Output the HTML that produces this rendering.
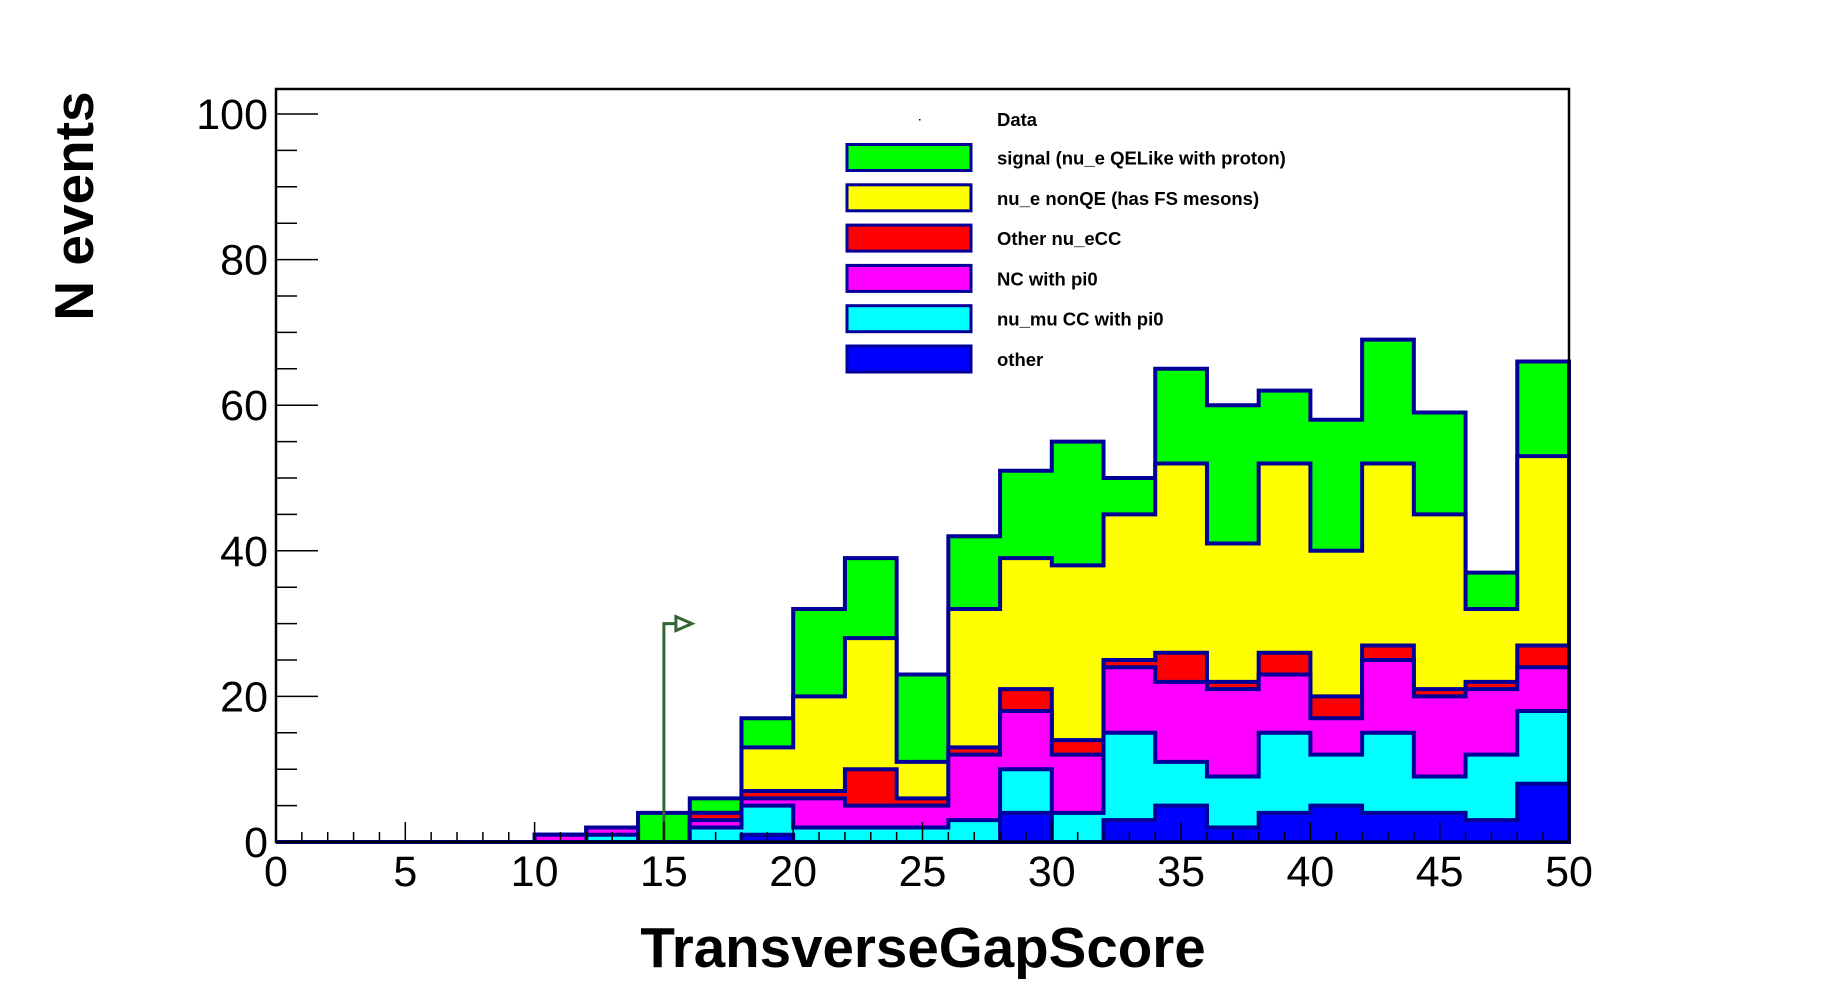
<!DOCTYPE html>
<html><head><meta charset="utf-8"><style>
html,body{margin:0;padding:0;background:#fff;}
svg{display:block;font-family:"Liberation Sans",Arial,sans-serif;}
</style></head><body>
<svg id="chart" width="1846" height="992" viewBox="0 0 1846 992" xmlns="http://www.w3.org/2000/svg">
<g id="bars"></g>
<g id="axes"></g>
<g id="legend"></g>
<text x="923" y="967" text-anchor="middle" font-size="56.5" font-weight="bold">TransverseGapScore</text>
<text transform="translate(93,206) rotate(-90)" text-anchor="middle" font-size="55" font-weight="bold">N events</text>
</svg>
<script>
const binEdges=[0,2,4,6,8,10,12,14,16,18,20,22,24,26,28,30,32,34,36,38,40,42,44,46,48,50];
const other =[0,0,0,0,0,0,0,0,0,1,0,0,0,0,4,0,3,5,2,4,5,4,4,3,8];
const numuCC=[0,0,0,0,0,0,1,0,2,4,2,2,2,3,6,4,12,6,7,11,7,11,5,9,10];
const ncPi0 =[0,0,0,0,0,1,1,0,1,1,4,3,3,9,8,8,9,11,12,8,5,10,11,9,6];
const otherNueCC=[0,0,0,0,0,0,0,0,1,1,1,5,1,1,3,2,1,4,1,3,3,2,1,1,3];
const nueNonQE=[0,0,0,0,0,0,0,0,0,6,13,18,5,19,18,24,20,26,19,26,20,25,24,10,26];
const signal=[0,0,0,0,0,0,0,4,2,4,12,11,12,10,12,17,5,13,19,10,18,17,14,5,13];
const xTicks=[0,5,10,15,20,25,30,35,40,45,50];
const yTicks=[0,20,40,60,80,100];
const seriesNames=["other","nu_mu CC with pi0","NC with pi0","Other nu_eCC","nu_e nonQE (has FS mesons)","signal (nu_e QELike with proton)"];
const cutValue=15, cutHeight=30;

const NS="http://www.w3.org/2000/svg";
const X0=276,X1=1569,Y0=842,YT=89,XMAX=50,YMAX=(842-89)/7.28;
const sx=v=>X0+v/XMAX*(X1-X0);
const sy=v=>Y0-v/YMAX*(Y0-YT);
function mk(tag,attrs,parent){const e=document.createElementNS(NS,tag);for(const k in attrs)e.setAttribute(k,attrs[k]);parent.appendChild(e);return e;}
const series=[other,numuCC,ncPi0,otherNueCC,nueNonQE,signal];
const colors=["#0000ff","#00ffff","#ff00ff","#ff0000","#ffff00","#00ff00"];
const keys=["other","numu-cc-pi0","nc-pi0","other-nuecc","nue-nonqe","signal"];
const bars=document.getElementById('bars');
const cum=[];let run=binEdges.slice(1).map(()=>0);
series.forEach(s=>{run=run.map((v,i)=>v+s[i]);cum.push(run.slice());});
for(let k=series.length-1;k>=0;k--){
  const c=cum[k];
  let d="M"+sx(binEdges[0])+","+sy(0);
  for(let i=0;i<c.length;i++){d+=" L"+sx(binEdges[i])+","+sy(c[i])+" L"+sx(binEdges[i+1])+","+sy(c[i]);}
  d+=" L"+sx(binEdges[binEdges.length-1])+","+sy(0)+" Z";
  const p=mk('path',{d:d,fill:colors[k],stroke:"#000099","stroke-width":4,"stroke-linejoin":"miter"},bars);
  
  
}
const ar=mk('path',{d:`M${sx(cutValue)},${sy(0)} L${sx(cutValue)},${sy(cutHeight)} L${sx(cutValue)+12},${sy(cutHeight)}`,fill:"none",stroke:"#336633","stroke-width":3},bars);


const ah=mk('path',{d:`M${sx(cutValue)+12},${sy(cutHeight)-7} L${sx(cutValue)+28},${sy(cutHeight)} L${sx(cutValue)+12},${sy(cutHeight)+7} Z`,fill:"none",stroke:"#336633","stroke-width":3},bars);


const ax=document.getElementById('axes');
const fr=mk('rect',{x:X0,y:YT,width:X1-X0,height:Y0-YT,fill:"none",stroke:"#000","stroke-width":2.5},ax);


for(let v=0;v<=YMAX;v+=5){const L=(v%20===0)?42:21;mk('line',{x1:X0,x2:X0+L,y1:sy(v),y2:sy(v),stroke:"#000","stroke-width":1.5},ax);}
for(let v=0;v<=50;v+=1){const L=(v%5===0)?20:10;mk('line',{x1:sx(v),x2:sx(v),y1:Y0,y2:Y0-L,stroke:"#000","stroke-width":1.5},ax);}
yTicks.forEach(v=>{const t=mk('text',{x:X0-8,y:sy(v)+15,"text-anchor":"end","font-size":43},ax);t.textContent=v;

});
xTicks.forEach(v=>{const t=mk('text',{x:sx(v),y:886,"text-anchor":"middle","font-size":43},ax);t.textContent=v;

});
const lg=document.getElementById('legend');
const dt=mk('text',{x:997,y:126,"font-size":18.5,"font-weight":"bold"},lg);dt.textContent="Data";


mk('rect',{x:919,y:119,width:1.5,height:1.5,fill:"#000"},lg);
for(let j=0;j<6;j++){
  const k=5-j, cy=157.5+j*40.3;
  const g=mk('g',{},lg);
  
  
  mk('rect',{x:847,y:cy-13,width:124,height:26,fill:colors[k],stroke:"#000099","stroke-width":3},g);
  const t=mk('text',{x:997,y:cy+7,"font-size":18.5,"font-weight":"bold"},g);t.textContent=seriesNames[k];
}
</script>
</body></html>
